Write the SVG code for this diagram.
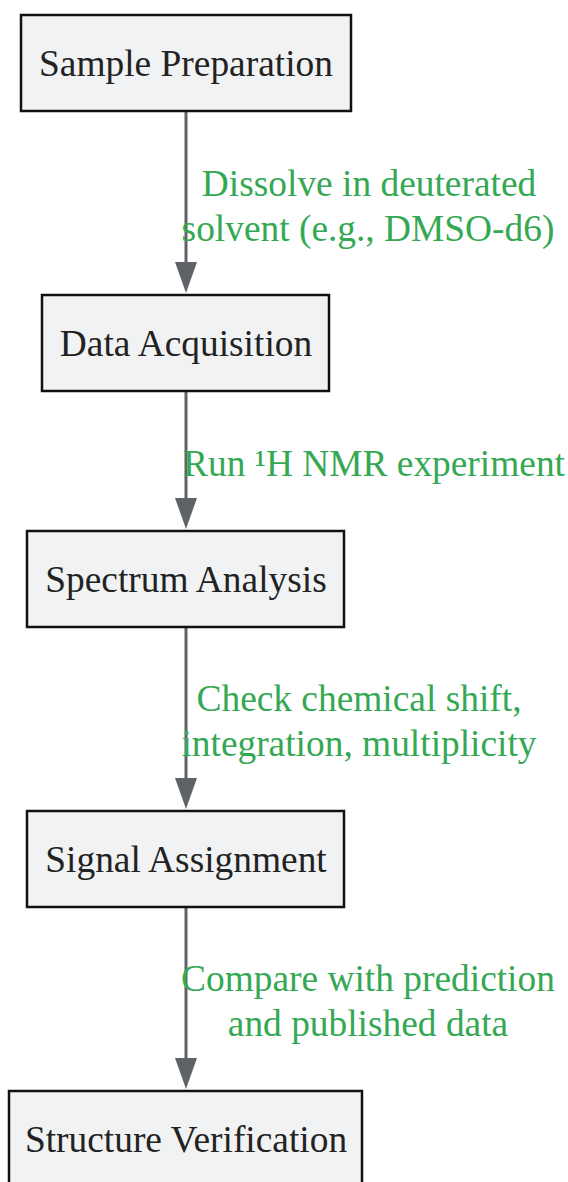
<svg xmlns="http://www.w3.org/2000/svg" width="568" height="1182" viewBox="0 0 568 1182">
<style>
.node rect{fill:#f1f2f4;stroke:#111;stroke-width:2.5}
.node text{font-family:"Liberation Serif","Times New Roman",serif;font-size:37.4px;fill:#222;text-anchor:middle}
.edge{stroke:#5f6368;stroke-width:3;fill:none}
.lbl{font-family:"Liberation Serif","Times New Roman",serif;font-size:37.4px;fill:#34a853;text-anchor:middle}
</style>
<defs>
<marker id="arr" markerUnits="userSpaceOnUse" markerWidth="31" markerHeight="22" viewBox="0 0 31 22" refX="0" refY="11" orient="auto">
<path d="M0,0 L31,11 L0,22 z" fill="#5f6368"/>
</marker>
</defs>
<g id="connectors">
<line class="edge" x1="186" y1="111" x2="186" y2="262" marker-end="url(#arr)"/>
<line class="edge" x1="186" y1="391" x2="186" y2="498" marker-end="url(#arr)"/>
<line class="edge" x1="186" y1="627" x2="186" y2="778" marker-end="url(#arr)"/>
<line class="edge" x1="186" y1="907" x2="186" y2="1058" marker-end="url(#arr)"/>
<text class="lbl" x="369" y="196">Dissolve in deuterated</text>
<text class="lbl" x="368" y="241">solvent (e.g., DMSO-d6)</text>
<text class="lbl" x="374" y="476">Run ¹H NMR experiment</text>
<text class="lbl" x="359" y="711">Check chemical shift,</text>
<text class="lbl" x="359" y="756">integration, multiplicity</text>
<text class="lbl" x="368" y="991">Compare with prediction</text>
<text class="lbl" x="368" y="1036">and published data</text>
</g>
<g id="n1" class="node"><rect x="21" y="15" width="330" height="96"/><text x="186" y="76">Sample Preparation</text></g>
<g id="n2" class="node"><rect x="42" y="295" width="287" height="96"/><text x="186" y="356">Data Acquisition</text></g>
<g id="n3" class="node"><rect x="27" y="531" width="317" height="96"/><text x="186" y="592">Spectrum Analysis</text></g>
<g id="n4" class="node"><rect x="27" y="811" width="317" height="96"/><text x="186" y="872">Signal Assignment</text></g>
<g id="n5" class="node"><rect x="9" y="1091" width="353" height="96"/><text x="186" y="1152">Structure Verification</text></g>
</svg>
